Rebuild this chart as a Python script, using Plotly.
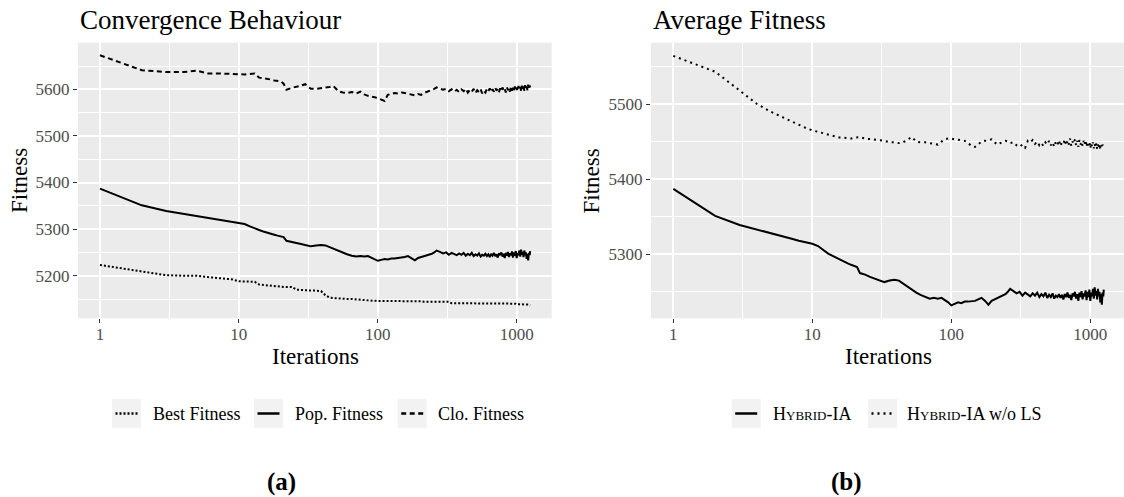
import plotly.graph_objects as go

# ---------------------------------------------------------------------------
# Iterations (x) shared by all series: every iteration up to 21, then sparser
iter_head = list(range(1, 22))
iter_mid = [22, 24, 26, 28, 30, 33, 36, 39, 42, 45, 48,
            52, 56, 60, 65, 70, 75, 80, 85, 90, 95, 100,
            106, 112, 118, 125, 132, 140, 148, 156, 165, 175,
            185, 195, 205, 215, 225, 235, 245, 255, 265]
iter_tail = list(range(280, 1241, 15)) + [1250]
iterations = iter_head + iter_mid + iter_tail

# Best fitness of the population
best_fitness = [
    5223, 5209, 5201, 5200, 5200, 5197, 5195, 5194, 5192, 5188, 5188, 5188, 5187,
    5181, 5180, 5180, 5179, 5177, 5176, 5176, 5176,
    5176, 5176, 5170, 5169, 5169,
    5168, 5168, 5167, 5158, 5153, 5152,
    5151, 5151, 5150, 5150, 5149, 5149, 5148, 5147, 5147, 5146, 5146,
    5146, 5146, 5146, 5146, 5146, 5146, 5145, 5145, 5145, 5145,
    5145, 5145, 5145, 5144, 5144, 5144, 5144, 5144, 5144,
    5144, 5144, 5144, 5144, 5141, 5141, 5141, 5141, 5141, 5141,
    5141, 5141, 5141, 5141, 5141, 5141, 5141, 5141, 5141, 5141,
    5141, 5141, 5141, 5140, 5140, 5140, 5140, 5140, 5140, 5140,
    5140, 5140, 5140, 5140, 5140, 5140, 5140, 5140, 5140, 5140,
    5140, 5140, 5140, 5140, 5140, 5140, 5140, 5140, 5139, 5139,
    5139, 5139, 5139, 5139, 5139, 5139, 5138, 5138, 5138, 5138,
    5138, 5138, 5137, 5137, 5136,
    5136,
]

# Average fitness of the population (Hybrid-IA)
pop_fitness = [
    5387, 5351, 5339, 5333, 5329, 5325, 5321, 5318, 5316, 5314, 5311, 5306, 5301,
    5298, 5295, 5293, 5290, 5288, 5286, 5284, 5283,
    5275, 5273, 5270, 5268, 5266,
    5263, 5265, 5266, 5265, 5261, 5258,
    5253, 5249, 5246, 5243, 5241, 5242, 5241, 5242, 5239, 5236, 5232,
    5234, 5236, 5235, 5237, 5237, 5238, 5238, 5240, 5242, 5238,
    5233, 5238, 5240, 5242, 5244, 5245, 5247, 5250, 5254,
    5251, 5248, 5250, 5245, 5249, 5246, 5244, 5248, 5245, 5249,
    5243, 5247, 5244, 5249, 5242, 5246, 5243, 5248, 5241, 5245,
    5243, 5247, 5242, 5246, 5240, 5247, 5243, 5249, 5242, 5246,
    5239, 5248, 5244, 5250, 5241, 5247, 5238, 5249, 5243, 5251,
    5240, 5248, 5244, 5252, 5239, 5250, 5243, 5253, 5238, 5249,
    5244, 5254, 5241, 5256, 5245, 5251, 5240, 5254, 5244, 5250,
    5236, 5247, 5233, 5249, 5244,
    5253,
]

# Average fitness of the clones
clo_fitness = [
    5673, 5641, 5637, 5637, 5640, 5634, 5634, 5633, 5633, 5632, 5632, 5633, 5634,
    5625, 5624, 5622, 5621, 5619, 5618, 5617, 5612,
    5599, 5603, 5605, 5608, 5611,
    5601, 5601, 5602, 5604, 5605, 5607,
    5596, 5593, 5592, 5594, 5591, 5595, 5589, 5586, 5585, 5583, 5581,
    5578, 5575, 5588, 5590, 5592, 5591, 5593, 5592, 5590, 5589,
    5587, 5590, 5588, 5592, 5594, 5597, 5598, 5601, 5604,
    5602, 5599, 5601, 5596, 5600, 5595, 5599, 5594, 5600, 5596,
    5601, 5593, 5599, 5595, 5601, 5592, 5598, 5594, 5600, 5591,
    5597, 5593, 5601, 5596, 5602, 5594, 5600, 5595, 5603, 5597,
    5601, 5594, 5602, 5596, 5604, 5597, 5601, 5593, 5604, 5598,
    5603, 5595, 5605, 5597, 5603, 5596, 5606, 5598, 5604, 5596,
    5607, 5599, 5605, 5597, 5608, 5599, 5606, 5597, 5609, 5600,
    5606, 5598, 5610, 5601, 5608,
    5604,
]

# Average fitness of Hybrid-IA without local search
nols_fitness = [
    5564, 5543, 5518, 5500, 5490, 5483, 5477, 5472, 5468, 5465, 5463, 5461, 5459,
    5457, 5456, 5455, 5455, 5454, 5454, 5455, 5456,
    5456, 5454, 5453, 5453, 5452,
    5451, 5449, 5449, 5448, 5449, 5452,
    5456, 5450, 5449, 5449, 5448, 5447, 5446, 5450, 5453, 5454, 5454,
    5453, 5452, 5452, 5451, 5448, 5444, 5443, 5447, 5450, 5451,
    5452, 5453, 5449, 5446, 5448, 5450, 5451, 5450, 5448,
    5449, 5445, 5443, 5446, 5442, 5451, 5449, 5452, 5447, 5450,
    5445, 5448, 5444, 5449, 5446, 5451, 5445, 5449, 5443, 5450,
    5446, 5452, 5444, 5449, 5447, 5453, 5445, 5451, 5446, 5454,
    5444, 5450, 5447, 5453, 5445, 5451, 5443, 5452, 5446, 5450,
    5444, 5451, 5446, 5452, 5443, 5449, 5445, 5450, 5441, 5448,
    5443, 5449, 5441, 5447, 5442, 5448, 5440, 5446, 5441, 5447,
    5440, 5445, 5441, 5446, 5442,
    5444,
]

for series in (best_fitness, pop_fitness, clo_fitness, nols_fitness):
    assert len(series) == len(iterations), (len(series), len(iterations))

x_ticks = [1, 10, 100, 1000]
x_minor = [10 ** 0.5, 10 ** 1.5, 10 ** 2.5]
left_y_ticks = [5200, 5300, 5400, 5500, 5600]
left_y_minor = [5150, 5250, 5350, 5450, 5550, 5650]
right_y_ticks = [5300, 5400, 5500]
right_y_minor = [5250, 5350, 5450, 5550]

# ---------------------------------------------------------------------------
W, H = 1124, 497
SERIF = "Liberation Serif"
PANEL = "#EBEBEB"
KEY_BG = "#F2F2F2"
LW = 2.0

DASH_BEST = "2px,2px"
DASH_CLO = "5px,3.5px"
DASH_NOLS = "2px,4px"


def fx(px):
    return px / W


def fy(py):
    return 1 - py / H


fig = go.Figure()

# Left panel: convergence behaviour
fig.add_trace(go.Scatter(x=iterations, y=best_fitness, mode="lines", xaxis="x", yaxis="y",
                         line=dict(color="black", width=LW, dash=DASH_BEST), showlegend=False))
fig.add_trace(go.Scatter(x=iterations, y=pop_fitness, mode="lines", xaxis="x", yaxis="y",
                         line=dict(color="black", width=LW), showlegend=False))
fig.add_trace(go.Scatter(x=iterations, y=clo_fitness, mode="lines", xaxis="x", yaxis="y",
                         line=dict(color="black", width=LW, dash=DASH_CLO), showlegend=False))

# Right panel: average fitness with and without local search
fig.add_trace(go.Scatter(x=iterations, y=pop_fitness, mode="lines", xaxis="x2", yaxis="y2",
                         line=dict(color="black", width=LW), showlegend=False))
fig.add_trace(go.Scatter(x=iterations, y=nols_fitness, mode="lines", xaxis="x2", yaxis="y2",
                         line=dict(color="black", width=LW, dash=DASH_NOLS), showlegend=False))

tickfont = dict(family=SERIF, size=17, color="#4D4D4D")
y_dom = [fy(318.3), fy(42.7)]


def x_axis(domain, rng, anchor):
    return dict(type="log", domain=domain, range=rng, anchor=anchor,
                tickmode="array", tickvals=x_ticks, ticktext=[str(v) for v in x_ticks],
                ticks="outside", ticklen=4, tickwidth=1, tickcolor="#333333",
                ticklabelstandoff=-4,
                showgrid=True, gridcolor="white", gridwidth=2,
                minor=dict(tickmode="array", tickvals=x_minor, showgrid=True,
                           gridcolor="white", gridwidth=1, ticks=""),
                zeroline=False, showline=False, tickfont=tickfont, fixedrange=True)


def y_axis(rng, ticks, minor, anchor):
    return dict(domain=y_dom, range=rng, anchor=anchor,
                tickmode="array", tickvals=ticks, ticktext=[str(v) for v in ticks],
                ticks="outside", ticklen=4, tickwidth=1, tickcolor="#333333",
                showgrid=True, gridcolor="white", gridwidth=2,
                minor=dict(tickmode="array", tickvals=minor, showgrid=True,
                           gridcolor="white", gridwidth=1, ticks=""),
                zeroline=False, showline=False, tickfont=tickfont, fixedrange=True)


fig.update_layout(
    width=W, height=H,
    margin=dict(l=0, r=0, t=0, b=0),
    paper_bgcolor="white", plot_bgcolor=PANEL,
    xaxis=x_axis([fx(78), fx(551.7)], [-0.158, 3.252], "y"),
    yaxis=y_axis([5108.6, 5700], left_y_ticks, left_y_minor, "x"),
    xaxis2=x_axis([fx(651), 1.0], [-0.1604, 3.2424], "y2"),
    yaxis2=y_axis([5214.8, 5581.6], right_y_ticks, right_y_minor, "x2"),
    showlegend=False,
)

annotations = []


def text(x, y, s, size, xanchor="center", color="black", angle=0, bold=False):
    if bold:
        s = f"<b>{s}</b>"
    annotations.append(dict(x=fx(x), y=fy(y), xref="paper", yref="paper", text=s,
                            showarrow=False, xanchor=xanchor, yanchor="middle",
                            textangle=angle,
                            font=dict(family=SERIF, size=size, color=color)))


# Panel titles
text(78, 20, "Convergence Behaviour", 27, xanchor="left")
text(651, 20, "Average Fitness", 27, xanchor="left")

# Axis titles
text(19.5, 180.5, "Fitness", 23, angle=-90)
text(591, 180.5, "Fitness", 23, angle=-90)
text(315, 356.7, "Iterations", 23)
text(888, 356.7, "Iterations", 23)

# Subfigure captions
text(281, 481.7, "(a)", 25, bold=True)
text(846, 481.7, "(b)", 25, bold=True)

shapes = []
LEG_Y = 413.5
KEY = 29


def legend_item(x0, label, dash, label_x):
    shapes.append(dict(type="rect", xref="paper", yref="paper",
                       x0=fx(x0), x1=fx(x0 + KEY), y0=fy(LEG_Y + KEY / 2), y1=fy(LEG_Y - KEY / 2),
                       fillcolor=KEY_BG, line=dict(width=0), layer="below"))
    shapes.append(dict(type="line", xref="paper", yref="paper",
                       x0=fx(x0 + 3.5), x1=fx(x0 + KEY - 3.5), y0=fy(LEG_Y), y1=fy(LEG_Y),
                       line=dict(color="black", width=LW + 0.5, dash=dash)))
    text(label_x, LEG_Y, label, 18, xanchor="left")


small = "<span style='font-size:13px'>YBRID</span>"
legend_item(112, "Best Fitness", DASH_BEST, 150.7)
legend_item(254, "Pop. Fitness", "solid", 292.7)
legend_item(397.7, "Clo. Fitness", DASH_CLO, 436)
legend_item(731.7, f"H{small}-IA", "solid", 770.7)
legend_item(868, f"H{small}-IA w/o LS", DASH_NOLS, 905)

fig.update_layout(annotations=annotations, shapes=shapes)

fig.write_html("out.html")
